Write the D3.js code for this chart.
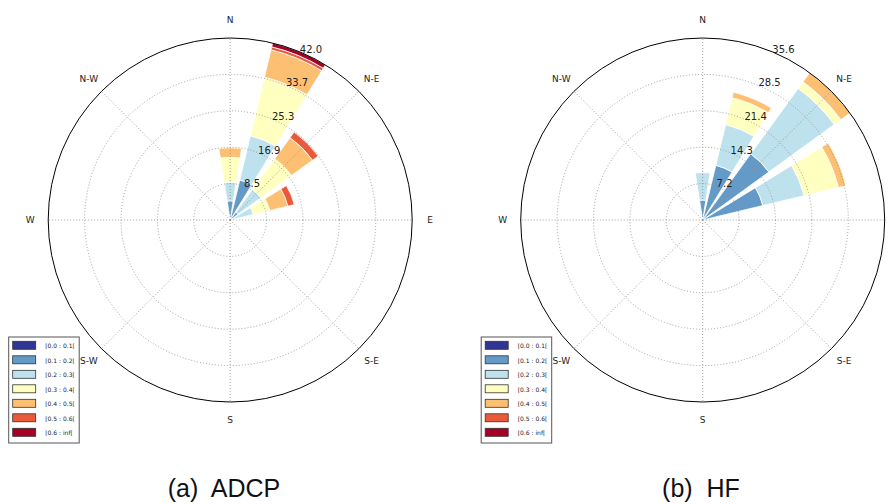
<!DOCTYPE html>
<html>
<head>
<meta charset="utf-8">
<script src="https://cdn.jsdelivr.net/npm/d3@7"></script>
<style>
  body { margin: 0; background: #fff; }
  svg { display: block; }
</style>
</head>
<body>
<div id="chart"></div>
<script>
// 16 direction sectors, clockwise from north
const sectors = ["N", "NNE", "NE", "ENE", "E", "ESE", "SE", "SSE",
                 "S", "SSW", "SW", "WSW", "W", "WNW", "NW", "NNW"];
const sectorDeg = [0, 22.5, 45, 67.5, 90, 112.5, 135, 157.5,
                   180, 202.5, 225, 247.5, 270, 292.5, 315, 337.5];

const speedBins = ["[0.0 : 0.1[", "[0.1 : 0.2[", "[0.2 : 0.3[", "[0.3 : 0.4[",
                   "[0.4 : 0.5[", "[0.5 : 0.6[", "[0.6 : inf["];
const binColors = ["#313695", "#649ac7", "#bde2ee", "#ffffbf",
                   "#fdbf71", "#ea593a", "#a50026"];

const compassLabels = ["N", "N-E", "E", "S-E", "S", "S-W", "W", "N-W"];
const compassDeg = [0, 45, 90, 135, 180, 225, 270, 315];

// (a) ADCP : frequency (%) per speed bin, per sector
const adcp_b0 = [0, 0, 0, 0, 0, 0, 0, 0, 0, 0, 0, 0, 0, 0, 0, 0];
const adcp_b1 = [4.4, 9.5, 2.2, 0.5, 0, 0, 0, 0, 0, 0, 0, 0, 0, 0, 0, 0];
const adcp_b2 = [4.3, 10.5, 6.5, 5.0, 0, 0, 0, 0, 0, 0, 0, 0, 0, 0, 0, 0];
const adcp_b3 = [5.8, 13.9, 8.8, 3.9, 0, 0, 0, 0, 0, 0, 0, 0, 0, 0, 0, 0];
const adcp_b4 = [2.2, 6.5, 6.0, 4.3, 0, 0, 0, 0, 0, 0, 0, 0, 0, 0, 0, 0];
const adcp_b5 = [0, 0.7, 1.6, 1.5, 0, 0, 0, 0, 0, 0, 0, 0, 0, 0, 0, 0];
const adcp_b6 = [0, 0.9, 0, 0, 0, 0, 0, 0, 0, 0, 0, 0, 0, 0, 0, 0];
const adcpTicks = ["8.5", "16.9", "25.3", "33.7", "42.0"];

// (b) HF
const hf_b0 = [0, 0, 0, 0, 0, 0, 0, 0, 0, 0, 0, 0, 0, 0, 0, 0];
const hf_b1 = [3.9, 11.0, 16.0, 12.1, 0, 0, 0, 0, 0, 0, 0, 0, 0, 0, 0, 0];
const hf_b2 = [5.4, 8.2, 15.8, 8.3, 0, 0, 0, 0, 0, 0, 0, 0, 0, 0, 0, 0];
const hf_b3 = [0, 5.4, 1.6, 6.9, 0, 0, 0, 0, 0, 0, 0, 0, 0, 0, 0, 0];
const hf_b4 = [0, 1.1, 2.2, 1.5, 0, 0, 0, 0, 0, 0, 0, 0, 0, 0, 0, 0];
const hf_b5 = [0, 0, 0, 0, 0, 0, 0, 0, 0, 0, 0, 0, 0, 0, 0, 0];
const hf_b6 = [0, 0, 0, 0, 0, 0, 0, 0, 0, 0, 0, 0, 0, 0, 0, 0];
const hfTicks = ["7.2", "14.3", "21.4", "28.5", "35.6"];

const width = 894, height = 504;
const R = 182;
const rad = d => d * Math.PI / 180;

const svg = d3.select("#chart").append("svg")
  .attr("width", width)
  .attr("height", height)
  .style("background", "#fff");

function drawRose(cx, bins, ticks, caption) {
  const g = svg.append("g").attr("transform", `translate(${cx},220)`);

  // stack the bins of each sector
  const rows = sectors.map((s, i) => {
    const row = { sector: s, deg: sectorDeg[i] };
    bins.forEach((b, k) => row["b" + k] = b[i]);
    return row;
  });
  const keys = bins.map((b, k) => "b" + k);
  const stacked = d3.stack().keys(keys)(rows);

  const rmax = +ticks[ticks.length - 1];
  const r = d3.scaleLinear().domain([0, rmax]).range([0, R]);
  const ringR = i => r((i + 1) * rmax / ticks.length);
  const half = 22.5 * 0.8 / 2;

  const arc = d3.arc()
    .innerRadius(d => r(d[0]))
    .outerRadius(d => r(d[1]))
    .startAngle(d => rad(d.data.deg - half))
    .endAngle(d => rad(d.data.deg + half));

  g.append("g")
    .selectAll("g")
    .data(stacked)
    .join("g")
    .attr("fill", (d, k) => binColors[k])
    .selectAll("path")
    .data(d => d.filter(p => p[1] - p[0] > 0))
    .join("path")
    .attr("d", arc)
    .attr("stroke", "#fff")
    .attr("stroke-width", 0.8);

  // grid, drawn over the petals
  const grid = g.append("g")
    .attr("fill", "none")
    .attr("stroke", "#8a8a8a")
    .attr("stroke-width", 0.8)
    .attr("stroke-dasharray", "1,2");

  grid.selectAll("circle")
    .data(ticks.slice(0, -1))
    .join("circle")
    .attr("r", (d, i) => ringR(i));

  grid.selectAll("line")
    .data(compassDeg)
    .join("line")
    .attr("x1", 0).attr("y1", 0)
    .attr("x2", d => R * Math.sin(rad(d)))
    .attr("y2", d => -R * Math.cos(rad(d)));

  g.append("circle")
    .attr("r", R)
    .attr("fill", "none")
    .attr("stroke", "#000")
    .attr("stroke-width", 1);

  // radial tick labels at 22.5 deg
  g.append("g")
    .selectAll("text")
    .data(ticks)
    .join("text")
    .attr("x", (d, i) => ringR(i) * Math.sin(rad(22.5)))
    .attr("y", (d, i) => -ringR(i) * Math.cos(rad(22.5)) + 1)
    .attr("font-family", "DejaVu Sans")
    .attr("font-size", 10)
    .attr("fill", "#222")
    .text(d => d);

  // compass labels (those falling outside the page are clipped off, as in the figure)
  const compass = compassLabels
    .map((t, i) => ({ t, x: 200 * Math.sin(rad(compassDeg[i])), y: -200 * Math.cos(rad(compassDeg[i])) }))
    .filter(d => cx + d.x + 5 < width);

  g.append("g")
    .selectAll("text")
    .data(compass)
    .join("text")
    .attr("x", d => d.x)
    .attr("y", d => d.y)
    .attr("text-anchor", "middle")
    .attr("dominant-baseline", "central")
    .attr("font-family", "DejaVu Sans")
    .attr("font-size", 9)
    .attr("fill", "#222")
    .text(d => d.t);

  // legend
  const lg = g.append("g").attr("transform", "translate(-222,117)");
  lg.append("rect")
    .attr("x", 0.5).attr("y", 0)
    .attr("width", 70.5).attr("height", 106)
    .attr("fill", "#fff")
    .attr("stroke", "#555")
    .attr("stroke-width", 1);
  const item = lg.selectAll("g.item")
    .data(speedBins)
    .join("g")
    .attr("class", "item")
    .attr("transform", (d, i) => `translate(0,${8.3 + i * 14.5})`);
  item.append("rect")
    .attr("x", 4.5).attr("y", -4)
    .attr("width", 23).attr("height", 8)
    .attr("fill", (d, i) => binColors[i])
    .attr("stroke", "#333")
    .attr("stroke-width", 0.8);
  item.append("text")
    .attr("x", 37)
    .attr("y", 0.5)
    .attr("dominant-baseline", "central")
    .attr("font-family", "DejaVu Sans")
    .attr("font-size", 6)
    .attr("fill", "#222")
    .text(d => d);

  // caption
  svg.append("text")
    .attr("x", caption.x)
    .attr("y", 497)
    .attr("text-anchor", "middle")
    .attr("font-family", "Liberation Sans")
    .attr("font-size", 25)
    .attr("fill", "#111")
    .attr("xml:space", "preserve")
    .style("white-space", "pre")
    .text(caption.text);
}

drawRose(230.2, [adcp_b0, adcp_b1, adcp_b2, adcp_b3, adcp_b4, adcp_b5, adcp_b6],
         adcpTicks, { text: "(a)  ADCP", x: 224 });
drawRose(702.7, [hf_b0, hf_b1, hf_b2, hf_b3, hf_b4, hf_b5, hf_b6],
         hfTicks, { text: "(b)  HF", x: 701 });
</script>
</body>
</html>
